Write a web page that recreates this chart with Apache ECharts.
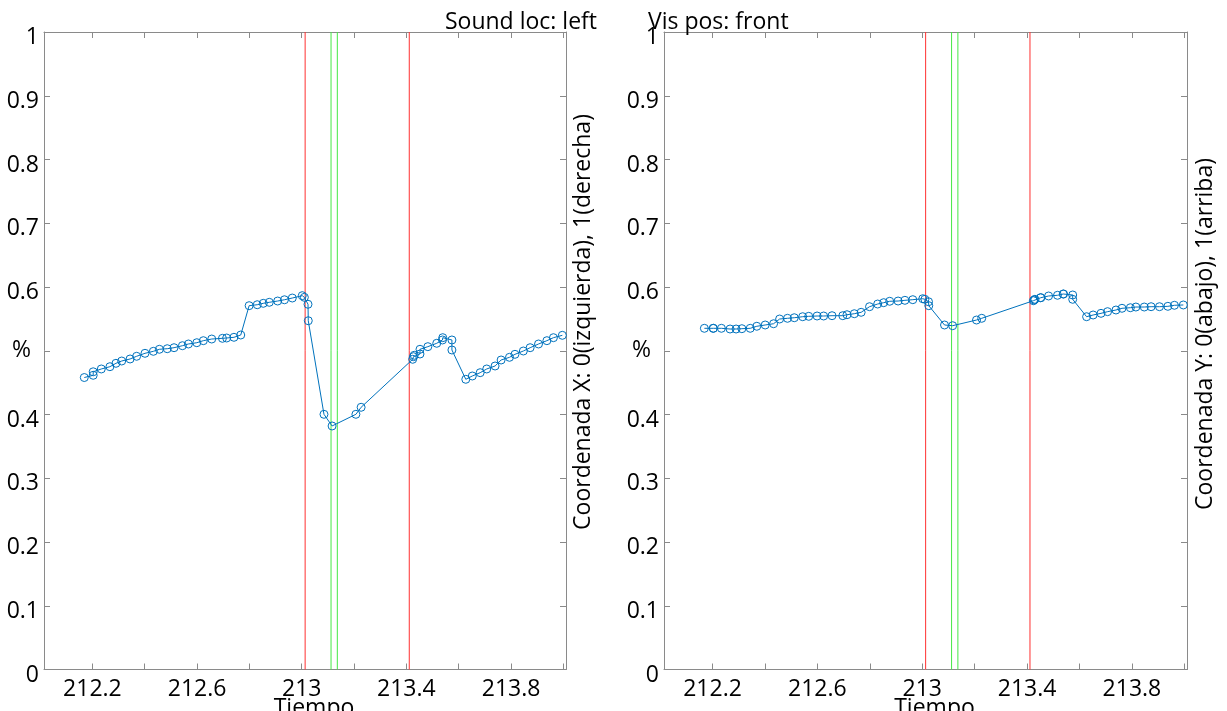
<!DOCTYPE html>
<html><head><meta charset="utf-8">
<script src="https://cdn.jsdelivr.net/npm/echarts@6/dist/echarts.min.js"></script>
<style>html,body{margin:0;padding:0;background:#fff}#c{width:1227px;height:711px}</style>
</head><body><div id="c"></div>
<script>
// ---- data ----
const tiempo = [
  212.169, 212.203, 212.203, 212.234, 212.267, 212.290, 212.312, 212.344, 212.369, 212.401,
  212.433, 212.456, 212.486, 212.512, 212.544, 212.567, 212.599, 212.624, 212.656, 212.697,
  212.713, 212.741, 212.767, 212.799, 212.830, 212.853, 212.876, 212.908, 212.934, 212.964,
  213.002, 213.010, 213.024, 213.025, 213.085, 213.116, 213.207, 213.227, 213.424, 213.427,
  213.430, 213.452, 213.452, 213.482, 213.516, 213.538, 213.539, 213.574, 213.574, 213.627,
  213.652, 213.682, 213.707, 213.739, 213.762, 213.794, 213.815, 213.847, 213.873, 213.905,
  213.937, 213.962, 213.996
];
const coordX = [
  0.458, 0.4615, 0.467, 0.4714, 0.475, 0.4803, 0.4839, 0.4871, 0.4913, 0.496,
  0.4991, 0.5023, 0.5032, 0.5048, 0.5079, 0.5106, 0.5126, 0.5158, 0.5184, 0.5195,
  0.52, 0.5211, 0.5247, 0.5707, 0.5722, 0.5744, 0.576, 0.578, 0.58, 0.5827,
  0.5864, 0.5838, 0.5729, 0.5471, 0.4003, 0.382, 0.4003, 0.4113, 0.4866, 0.4907,
  0.4929, 0.4949, 0.5023, 0.5064, 0.5117, 0.5169, 0.5205, 0.5169, 0.5012, 0.4552,
  0.4604, 0.4656, 0.4714, 0.4761, 0.4855, 0.4897, 0.4944, 0.4996, 0.5048, 0.5106,
  0.5158, 0.5205, 0.5242
];
const coordY = [
  0.5352, 0.5352, 0.5352, 0.5352, 0.5341, 0.5341, 0.5346, 0.5352, 0.5384, 0.5404,
  0.5424, 0.5498, 0.5509, 0.5518, 0.5534, 0.554, 0.5545, 0.5545, 0.555, 0.555,
  0.5565, 0.5581, 0.5603, 0.5691, 0.5733, 0.5754, 0.5776, 0.578, 0.5791, 0.5801,
  0.5816, 0.5807, 0.5769, 0.5707, 0.5404, 0.5393, 0.5482, 0.5509, 0.5785, 0.5796,
  0.5807, 0.5832, 0.5832, 0.5859, 0.587, 0.589, 0.589, 0.5875, 0.5807, 0.5534,
  0.5561, 0.5587, 0.5613, 0.5639, 0.5666, 0.5675, 0.5686, 0.5686, 0.5691, 0.5691,
  0.5697, 0.5713, 0.5718
];
const redLines = [213.013, 213.411];
const greenLines = [213.112, 213.136];
const xTicks = [212.2, 212.4, 212.6, 212.8, 213.0, 213.2, 213.4, 213.6, 213.8, 214.0];
const xTickLabels = [212.2, 212.6, 213, 213.4, 213.8];
const yTickLabels = [0, 0.1, 0.2, 0.3, 0.4, 0.6, 0.7, 0.8, 0.9, 1];
const xRange = [212.015, 214.01];
const titles = ['Sound loc: left', 'Vis pos: front'];
const sideNames = ['Coordenada X: 0(izquierda), 1(derecha)', 'Coordenada Y: 0(abajo), 1(arriba)'];
const xName = 'Tiempo';
const yName = '%';

// ---- chart ----
const FONT = "'Open Sans', 'Noto Sans', sans-serif";
const FS = 23;
const AXC = '#8a8a8a';
const LINEC = '#0072BD';
const grids = [
  { left: 44, top: 32, width: 522, height: 637.5, outerBoundsMode: 'none', containLabel: false },
  { left: 664, top: 32, width: 523, height: 637.5, outerBoundsMode: 'none', containLabel: false }
];
const seriesVals = [coordX, coordY];

const xAxes = [], yAxes = [], series = [];
grids.forEach((g, i) => {
  xAxes.push({
    gridIndex: i, type: 'value', position: 'bottom', min: xRange[0], max: xRange[1],
    axisLine: { show: true, onZero: false, lineStyle: { color: AXC, width: 1 } },
    axisTick: { show: true, inside: true, length: 6, customValues: xTicks, lineStyle: { color: AXC } },
    axisLabel: { show: true, customValues: xTickLabels, margin: 8, color: '#000', fontSize: FS, fontFamily: FONT,
      formatter: v => String(+v.toFixed(1)) },
    splitLine: { show: false },
    name: xName, nameLocation: 'middle', nameGap: 27, nameMoveOverlap: false,
    nameTextStyle: { color: '#000', fontSize: FS, fontFamily: FONT, padding: [0, 0, 0, 18] }
  });
  xAxes.push({
    gridIndex: i, type: 'value', position: 'top', min: xRange[0], max: xRange[1],
    axisLine: { show: true, onZero: false, lineStyle: { color: AXC, width: 1 } },
    axisTick: { show: true, inside: true, length: 6, customValues: xTicks, lineStyle: { color: AXC } },
    axisLabel: { show: false }, splitLine: { show: false }
  });
  yAxes.push({
    gridIndex: i, type: 'value', position: 'left', min: 0, max: 1, interval: 0.1,
    axisLine: { show: true, onZero: false, lineStyle: { color: AXC, width: 1 } },
    axisTick: { show: true, inside: true, length: 6, lineStyle: { color: AXC } },
    axisLabel: { show: true, customValues: yTickLabels, margin: 5, color: '#000', fontSize: FS, fontFamily: FONT,
      verticalAlign: 'top', lineHeight: 11, formatter: v => String(+v.toFixed(1)) },
    splitLine: { show: false },
    name: yName, nameLocation: 'middle', nameRotate: 0, nameGap: 13, nameMoveOverlap: false,
    nameTextStyle: { color: '#000', fontSize: FS, fontFamily: FONT, padding: [0, 0, 3, 0] }
  });
  yAxes.push({
    gridIndex: i, type: 'value', position: 'right', min: 0, max: 1, interval: 0.1,
    axisLine: { show: true, onZero: false, lineStyle: { color: AXC, width: 1 } },
    axisTick: { show: true, inside: true, length: 6, lineStyle: { color: AXC } },
    axisLabel: { show: false }, splitLine: { show: false }
  });
  // event marker lines (vertical, full height), drawn through the axes' scales
  redLines.forEach(v => series.push({
    type: 'line', xAxisIndex: 2 * i, yAxisIndex: 2 * i, data: [[v, 0], [v, 1]],
    showSymbol: false, symbol: 'none', silent: true, z: 1,
    lineStyle: { color: '#ff3030', width: 1 }
  }));
  greenLines.forEach(v => series.push({
    type: 'line', xAxisIndex: 2 * i, yAxisIndex: 2 * i, data: [[v, 0], [v, 1]],
    showSymbol: false, symbol: 'none', silent: true, z: 1,
    lineStyle: { color: '#44e844', width: 1 }
  }));
  series.push({
    type: 'line', xAxisIndex: 2 * i, yAxisIndex: 2 * i, clip: false,
    data: tiempo.map((t, k) => [t, seriesVals[i][k]]),
    symbol: 'circle', symbolSize: 8, showSymbol: true,
    itemStyle: { color: 'rgba(0,0,0,0)', borderColor: LINEC, borderWidth: 1 },
    lineStyle: { color: LINEC, width: 1 },
    z: 3
  });
});

const option = {
  backgroundColor: '#fff',
  animation: false,
  textStyle: { fontFamily: FONT },
  title: [
    { text: titles[0], right: 630, top: 11, padding: 0, textStyle: { color: '#000', fontWeight: 'normal', fontSize: FS, fontFamily: FONT } },
    { text: titles[1], left: 648, top: 11, padding: 0, textStyle: { color: '#000', fontWeight: 'normal', fontSize: FS, fontFamily: FONT } }
  ],
  grid: grids,
  xAxis: xAxes,
  yAxis: yAxes,
  series: series,
  graphic: [
    { type: 'text', x: 583, y: 322, rotation: Math.PI / 2,
      style: { text: sideNames[0], fill: '#000', fontSize: FS, fontFamily: FONT, align: 'center', verticalAlign: 'middle' } },
    { type: 'text', x: 1205, y: 334, rotation: Math.PI / 2,
      style: { text: sideNames[1], fill: '#000', fontSize: FS, fontFamily: FONT, align: 'center', verticalAlign: 'middle' } }
  ]
};
const chart = echarts.init(document.getElementById('c'));
chart.setOption(option);
</script>
</body></html>
